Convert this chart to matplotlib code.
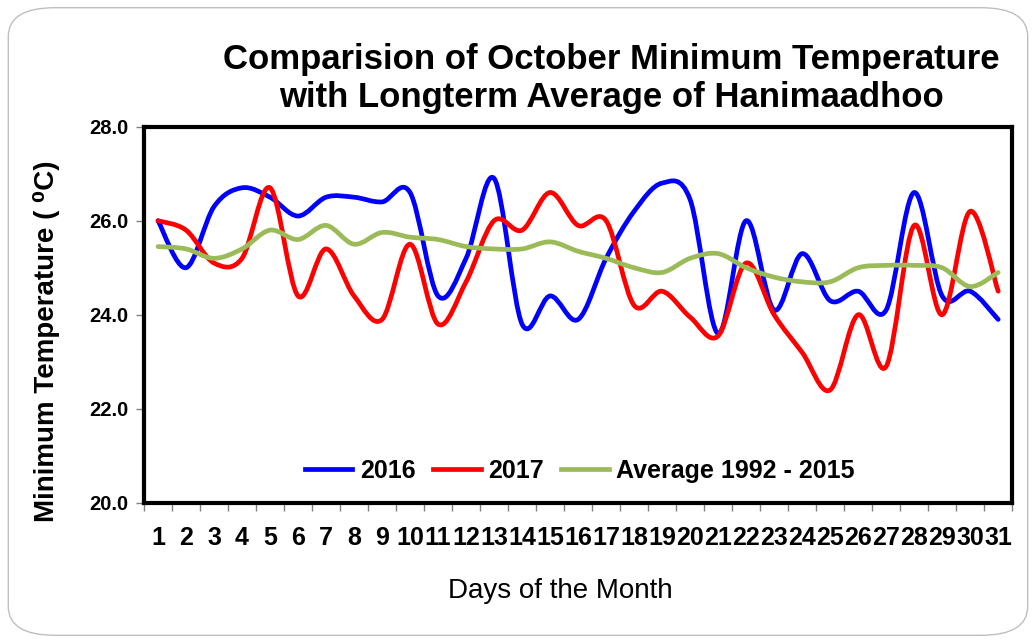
import numpy as np
import matplotlib
matplotlib.use("Agg")
import matplotlib.pyplot as plt
from matplotlib.path import Path
from matplotlib.patches import PathPatch, FancyBboxPatch
from matplotlib.lines import Line2D

# October minimum temperature, Hanimaadhoo
days = list(range(1, 32))
t2016 = [26.0, 25.0, 26.3, 26.7, 26.5, 26.1, 26.5, 26.5, 26.4, 26.6,
         24.4, 25.2, 26.9, 23.8, 24.4, 23.9, 25.2, 26.2, 26.8, 26.45,
         23.6, 26.0, 24.1, 25.3, 24.3, 24.5, 24.1, 26.6, 24.4, 24.5, 23.9]
t2017 = [26.0, 25.8, 25.1, 25.2, 26.7, 24.4, 25.4, 24.4, 23.9, 25.5,
         23.8, 24.7, 26.0, 25.8, 26.6, 25.9, 26.0, 24.2, 24.5, 23.95,
         23.55, 25.1, 24.0, 23.2, 22.4, 24.0, 22.9, 25.9, 24.0, 26.2, 24.5]
avg = [25.45, 25.4, 25.2, 25.4, 25.8, 25.6, 25.9, 25.5, 25.75, 25.65,
       25.6, 25.45, 25.4, 25.4, 25.55, 25.35, 25.2, 25.0, 24.9, 25.2,
       25.3, 25.0, 24.8, 24.7, 24.7, 25.0, 25.05, 25.05, 25.0, 24.6, 24.9]
series = [("2016", t2016, "#0000FF"), ("2017", t2017, "#FF0000"),
          ("Average 1992 - 2015", avg, "#9BBB59")]


def smooth_path(x, y):
    # Excel-style smoothed line: cubic bezier through every point
    pts = np.column_stack([x, y]).astype(float)
    ext = np.vstack([pts[0], pts, pts[-1]])
    verts = [pts[0]]
    codes = [Path.MOVETO]
    for i in range(len(pts) - 1):
        p0, p1, p2, p3 = ext[i], ext[i + 1], ext[i + 2], ext[i + 3]
        verts += [p1 + (p2 - p0) / 6, p2 - (p3 - p1) / 6, p2]
        codes += [Path.CURVE4] * 3
    return Path(verts, codes)


plt.rcParams["font.family"] = ["Liberation Sans", "DejaVu Sans"]

fig = plt.figure(figsize=(10.36, 6.43), dpi=100)
ax = fig.add_axes([0.139, 0.218, 0.838, 0.585])

handles = []
for name, vals, col in series:
    ax.add_patch(PathPatch(smooth_path(days, vals), fc="none", ec=col, lw=3.4,
                           capstyle="round", joinstyle="round"))
    handles.append(Line2D([], [], color=col, lw=3.4, label=name))

ax.set_xlim(0.5, 31.5)
ax.set_ylim(20, 28)
ax.set_yticks(np.arange(20, 28.1, 2))
ax.set_yticklabels([f"{v:.1f}" for v in np.arange(20, 28.1, 2)],
                   fontsize=14.5, fontweight="bold")
ax.set_xticks(np.arange(0.5, 32, 1))
ax.set_xticklabels([])
ax.set_xticks(days, minor=True)
ax.set_xticklabels([str(d) for d in days], minor=True, fontsize=18, fontweight="bold")
ax.tick_params(axis="x", which="major", length=6, color="#808080", width=1)
ax.tick_params(axis="x", which="minor", length=0, pad=17)
ax.tick_params(axis="y", length=6, color="#808080", width=1, pad=5)
for s in ax.spines.values():
    s.set_linewidth(3)
    s.set_color("black")

ax.set_ylabel("Minimum Temperature ( \u2070C)", fontsize=20, fontweight="bold")
ax.yaxis.set_label_coords(-0.097, 0.43)
ax.set_xlabel("Days of the Month", fontsize=20)
ax.xaxis.set_label_coords(0.48, -0.199)

ax.legend(handles=handles, loc="center", bbox_to_anchor=(0.502, 0.085), ncol=3,
          frameon=False, handlelength=1.9, handletextpad=0.3, columnspacing=0.7,
          prop={"size": 18, "weight": "bold"})

fig.text(0.59, 0.878, "Comparision of October Minimum Temperature\nwith Longterm Average of Hanimaadhoo",
         ha="center", va="center", fontsize=25, fontweight="bold", linespacing=1.22)

fig.patches.append(FancyBboxPatch((0.008, 0.012), 0.984, 0.976,
                                  boxstyle="round,pad=0,rounding_size=0.045",
                                  transform=fig.transFigure, fc="none",
                                  ec="#BFBFBF", lw=1))

fig.savefig("out.png", dpi=100)
